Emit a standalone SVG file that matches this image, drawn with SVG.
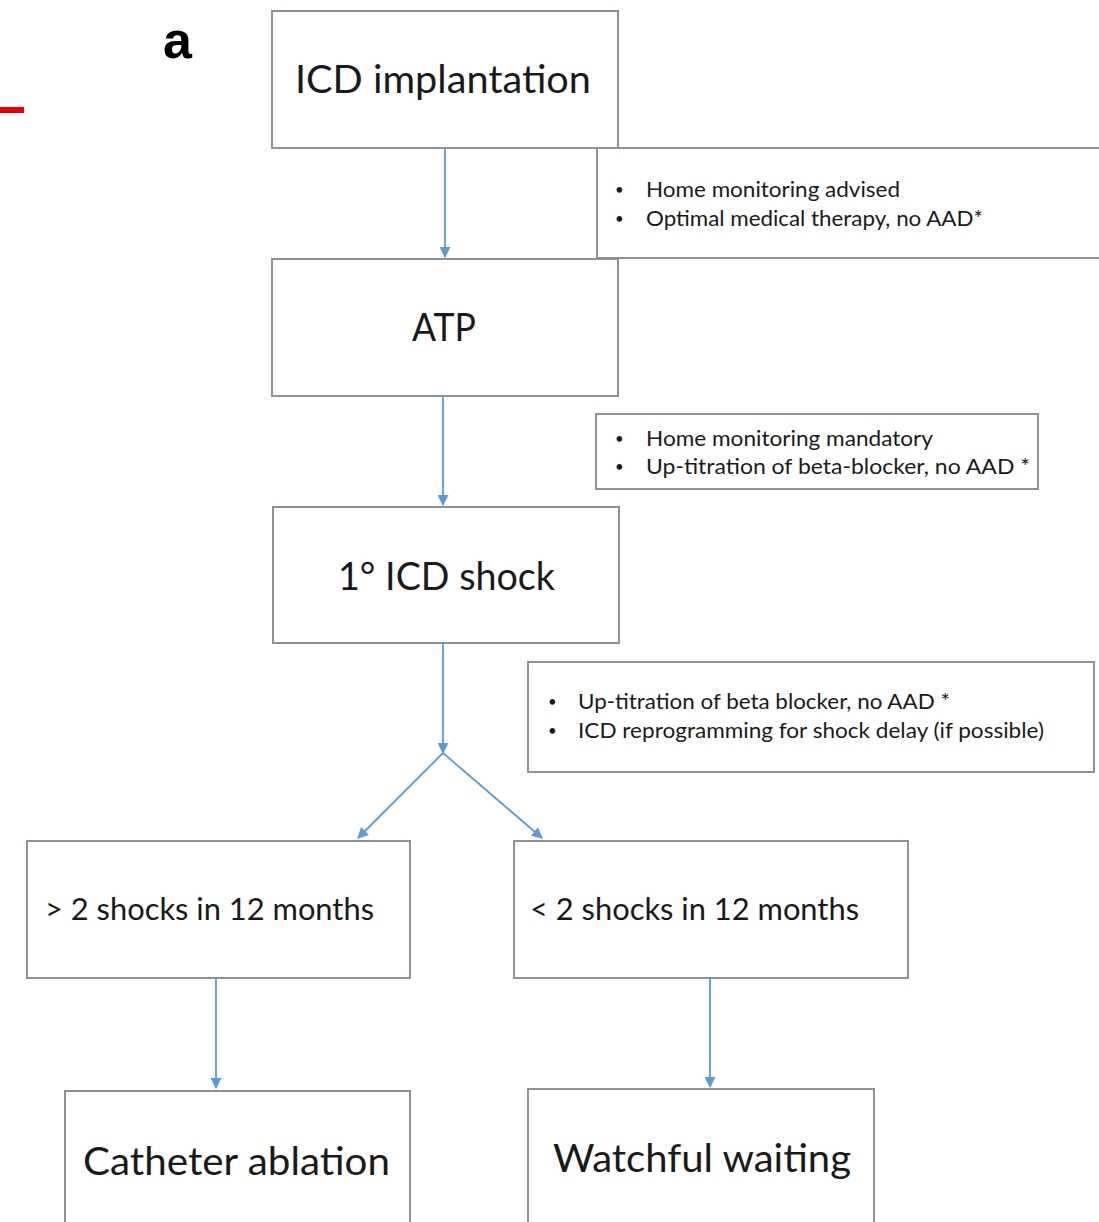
<svg xmlns="http://www.w3.org/2000/svg" width="1099" height="1222" viewBox="0 0 1099 1222">
<defs>
<marker id="ah" viewBox="0 0 10 10" refX="9" refY="5" markerWidth="11" markerHeight="11" markerUnits="userSpaceOnUse" orient="auto">
<path d="M0,0 L10,5 L0,10 z" fill="#5b9bd5"/>
</marker>
<style>
.box{fill:#ffffff;stroke:#8c929c;stroke-width:2}
.big{font-family:Lato,"Open Sans","Noto Sans",sans-serif;font-size:38px;fill:#1a1a1a}
.mid{font-family:Lato,"Open Sans","Noto Sans",sans-serif;font-size:30px;fill:#1a1a1a}
.sm{font-family:Lato,"Open Sans","Noto Sans",sans-serif;font-size:21px;fill:#1a1a1a}
.bul{font-family:Lato,"Open Sans","Noto Sans",sans-serif;font-size:15px;fill:#1a1a1a}
.conn{stroke:#5b9bd5;stroke-width:1.8;fill:none;marker-end:url(#ah)}
</style>
</defs>
<rect width="1099" height="1222" fill="#ffffff"/>
<rect x="0" y="107" width="24" height="6" fill="#ee0000"/>
<text x="163" y="58" font-family="Liberation Sans,Arial,sans-serif" font-weight="bold" font-size="52" fill="#000">a</text>

<g id="connectors">
<line class="conn" x1="445" y1="149" x2="445" y2="257"/>
<line class="conn" x1="443" y1="397" x2="443" y2="505"/>
<line class="conn" x1="443" y1="644" x2="443" y2="753"/>
<line class="conn" x1="443" y1="753" x2="358" y2="838"/>
<line class="conn" x1="443" y1="753" x2="542" y2="838"/>
<line class="conn" x1="216" y1="979" x2="216" y2="1088"/>
<line class="conn" x1="710" y1="979" x2="710" y2="1087"/>
</g>

<g id="node-icd">
<rect class="box" x="272" y="11" width="346" height="137"/>
<text class="big" x="295" y="93" textLength="296" lengthAdjust="spacingAndGlyphs">ICD implantation</text>
</g>
<g id="note-1">
<rect class="box" x="597" y="148" width="510" height="110"/>
<text class="bul" x="615" y="195">•</text>
<text class="sm" x="646" y="197" textLength="254" lengthAdjust="spacingAndGlyphs">Home monitoring advised</text>
<text class="bul" x="615" y="224">•</text>
<text class="sm" x="646" y="226" textLength="337" lengthAdjust="spacingAndGlyphs">Optimal medical therapy, no AAD*</text>
</g>
<g id="node-atp">
<rect class="box" x="272" y="259" width="346" height="137"/>
<text class="big" x="412" y="341" textLength="64" lengthAdjust="spacingAndGlyphs">ATP</text>
</g>
<g id="note-2">
<rect class="box" x="596" y="414" width="442" height="75"/>
<text class="bul" x="615" y="444">•</text>
<text class="sm" x="646" y="446" textLength="287" lengthAdjust="spacingAndGlyphs">Home monitoring mandatory</text>
<text class="bul" x="615" y="472">•</text>
<text class="sm" x="646" y="474" textLength="384" lengthAdjust="spacingAndGlyphs">Up-titration of beta-blocker, no AAD *</text>
</g>
<g id="node-shock">
<rect class="box" x="273" y="507" width="346" height="136"/>
<text class="big" x="338" y="590" textLength="217" lengthAdjust="spacingAndGlyphs">1° ICD shock</text>
</g>
<g id="note-3">
<rect class="box" x="528" y="662" width="566" height="110"/>
<text class="bul" x="548" y="707">•</text>
<text class="sm" x="578" y="709" textLength="372" lengthAdjust="spacingAndGlyphs">Up-titration of beta blocker, no AAD *</text>
<text class="bul" x="548" y="736">•</text>
<text class="sm" x="578" y="738" textLength="466" lengthAdjust="spacingAndGlyphs">ICD reprogramming for shock delay (if possible)</text>
</g>
<g id="node-more">
<rect class="box" x="27" y="841" width="383" height="137"/>
<text class="mid" x="45" y="920" textLength="329" lengthAdjust="spacingAndGlyphs">&gt; 2 shocks in 12 months</text>
</g>
<g id="node-less">
<rect class="box" x="514" y="841" width="394" height="137"/>
<text class="mid" x="530" y="920" textLength="329" lengthAdjust="spacingAndGlyphs">&lt; 2 shocks in 12 months</text>
</g>
<g id="node-ablation">
<path class="box" d="M65,1230 V1091 H410 V1230"/>
<text class="big" x="83" y="1175" textLength="307" lengthAdjust="spacingAndGlyphs">Catheter ablation</text>
</g>
<g id="node-waiting">
<path class="box" d="M528,1230 V1089 H874 V1230"/>
<text class="big" x="553" y="1172" textLength="298" lengthAdjust="spacingAndGlyphs">Watchful waiting</text>
</g>
</svg>
